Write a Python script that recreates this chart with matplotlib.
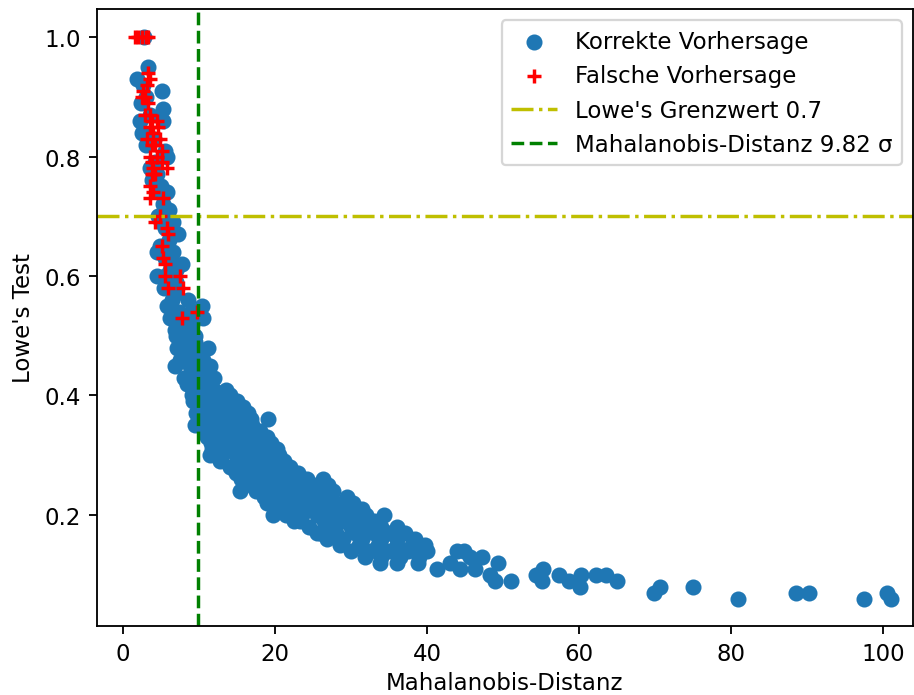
import matplotlib
matplotlib.use("Agg")
import matplotlib.pyplot as plt

# Korrekte Vorhersagen (Mahalanobis-Distanz, Lowe's Test)
korrekt_x = [2.7,
    3.3, 1.8, 2.6, 5.1, 3.0, 2.4, 5.3, 3.5, 2.2, 5.3, 2.5, 4.0, 3.0, 5.5, 5.8, 4.2, 3.5, 4.5, 3.8,
    5.0, 4.9, 5.8, 5.3, 4.6, 5.0, 5.5, 7.2, 6.0, 4.8, 4.5, 6.5, 5.5, 7.8, 6.2, 4.5, 5.5, 7.0, 5.4,
    6.8, 6.4, 8.5, 5.8, 10.4, 7.3, 9.0, 6.2, 10.5, 7.5, 6.8, 8.8, 9.5, 7.0,
    6.0, 6.5, 6.5, 7.0, 6.0, 8.0, 9.0, 8.0, 9.5, 10.0, 9.0, 10.5, 12.0,
    7.1, 8.5, 11.2, 9.8, 7.5, 10.5, 6.8, 8.8, 11.4, 9.5, 8.0, 10.5, 12.0, 8.4, 9.7, 11.5, 13.5,
    9.0, 10.5, 12.5, 14.0, 9.2, 11.0, 13.0, 15.0, 10.0, 12.0, 14.2, 15.8,
    9.6, 11.5, 13.3, 15.2, 16.5, 10.5, 12.5, 14.5, 16.8, 19.1,
    9.5, 11.2, 13.2, 15.5, 17.0, 10.8, 12.8, 14.8, 16.2, 18.0,
    11.0, 13.5, 15.5, 17.5, 19.0,
    11.5, 12.8, 14.5, 16.5, 18.5, 19.5,
    11.7, 13.8, 15.5, 17.2, 20.2,
    11.4, 13.0, 14.8, 16.8, 18.5, 20.5,
    12.7, 15.8, 17.5, 19.5, 21.2,
    14.0, 16.2, 18.2, 20.0, 21.9,
    14.8, 17.0, 19.0, 21.0, 23.0,
    15.5, 17.8, 20.0, 22.0, 24.2, 26.3,
    16.0, 18.5, 21.0, 23.0, 25.0, 27.0,
    15.4, 17.5, 19.5, 22.0, 24.0, 26.0, 27.6,
    18.5, 20.5, 23.0, 25.0, 27.0, 29.4,
    19.0, 21.5, 23.8, 26.0, 28.0, 30.2,
    20.5, 22.5, 24.5, 27.0, 29.0, 31.4,
    19.7, 21.5, 23.5, 25.5, 28.0, 30.0, 32.0, 34.4,
    22.5, 23.3, 26.5, 29.0, 31.0, 33.0,
    24.5, 27.5, 30.0, 32.0, 34.0, 36.0,
    25.5, 28.0, 30.5, 33.0, 35.0, 37.1, 25.9,
    26.8, 29.0, 31.5, 34.0, 36.0, 38.4,
    28.5, 31.0, 33.5, 36.0, 38.0, 39.7,
    30.0, 32.5, 35.0, 37.5, 40.0, 43.9, 44.9,
    31.8, 34.0, 36.5, 39.0, 45.6, 47.2,
    33.8, 36.0, 38.8, 43.0, 49.3,
    41.3, 44.3, 46.3, 55.2,
    48.3, 54.4, 57.4, 60.3, 62.3, 63.6,
    48.9, 51.1, 55.1, 58.7, 65.0,
    60.1, 70.7, 75.0,
    69.9, 88.5, 90.3, 100.5,
    80.9, 97.5, 101.0]
korrekt_y = [1.00,
    0.95, 0.93, 0.92, 0.91, 0.90, 0.89, 0.88, 0.87, 0.86, 0.86, 0.84, 0.83, 0.82, 0.81, 0.80, 0.79, 0.78, 0.77, 0.76,
    0.75, 0.74, 0.74, 0.72, 0.70, 0.69, 0.68, 0.67, 0.66, 0.65, 0.64, 0.64, 0.63, 0.62, 0.61, 0.60, 0.60, 0.59, 0.58,
    0.57, 0.56, 0.56, 0.55, 0.55, 0.54, 0.54, 0.53, 0.53, 0.52, 0.51, 0.51, 0.50, 0.50,
    0.71, 0.69, 0.62, 0.61, 0.58, 0.53, 0.52, 0.50, 0.49, 0.45, 0.47, 0.41, 0.41,
    0.48, 0.48, 0.48, 0.47, 0.46, 0.46, 0.45, 0.45, 0.45, 0.44, 0.43, 0.43, 0.43, 0.42, 0.42, 0.41, 0.41,
    0.40, 0.40, 0.40, 0.40, 0.39, 0.39, 0.39, 0.39, 0.38, 0.38, 0.38, 0.38,
    0.37, 0.37, 0.37, 0.37, 0.37, 0.36, 0.36, 0.36, 0.36, 0.36,
    0.35, 0.35, 0.35, 0.35, 0.35, 0.34, 0.34, 0.34, 0.34, 0.34,
    0.33, 0.33, 0.33, 0.33, 0.33,
    0.32, 0.32, 0.32, 0.32, 0.32, 0.32,
    0.31, 0.31, 0.31, 0.31, 0.31,
    0.30, 0.30, 0.30, 0.30, 0.30, 0.30,
    0.29, 0.29, 0.29, 0.29, 0.29,
    0.28, 0.28, 0.28, 0.28, 0.28,
    0.27, 0.27, 0.27, 0.27, 0.27,
    0.26, 0.26, 0.26, 0.26, 0.26, 0.26,
    0.25, 0.25, 0.25, 0.25, 0.25, 0.25,
    0.24, 0.24, 0.24, 0.24, 0.24, 0.24, 0.24,
    0.23, 0.23, 0.23, 0.23, 0.23, 0.23,
    0.22, 0.22, 0.22, 0.22, 0.22, 0.22,
    0.21, 0.21, 0.21, 0.21, 0.21, 0.21,
    0.20, 0.20, 0.20, 0.20, 0.20, 0.20, 0.20, 0.20,
    0.19, 0.19, 0.19, 0.19, 0.19, 0.19,
    0.18, 0.18, 0.18, 0.18, 0.18, 0.18,
    0.17, 0.17, 0.17, 0.17, 0.17, 0.17, 0.17,
    0.16, 0.16, 0.16, 0.16, 0.16, 0.16,
    0.15, 0.15, 0.15, 0.15, 0.15, 0.15,
    0.14, 0.14, 0.14, 0.14, 0.14, 0.14, 0.14,
    0.13, 0.13, 0.13, 0.13, 0.13, 0.13,
    0.12, 0.12, 0.12, 0.12, 0.12,
    0.11, 0.11, 0.11, 0.11,
    0.10, 0.10, 0.10, 0.10, 0.10, 0.10,
    0.09, 0.09, 0.09, 0.09, 0.09,
    0.08, 0.08, 0.08,
    0.07, 0.07, 0.07, 0.07,
    0.06, 0.06, 0.06]

# Falsche Vorhersagen
falsch_x = [1.5, 2.0, 2.5, 3.0, 3.3,
    3.3, 3.5, 3.2, 2.6, 2.5, 2.9, 3.3, 2.9, 3.5, 3.8, 4.5, 3.5, 4.6, 3.9, 3.2, 4.9, 3.8, 4.2,
    5.1, 3.5, 4.5, 5.1, 3.8, 3.9, 5.8, 3.8, 4.2, 3.9, 3.5, 3.9, 3.5, 5.3,
    4.9, 4.2, 5.8, 5.9, 5.1, 5.3, 5.5, 5.5, 7.5, 5.9, 7.9, 7.8, 9.7]
falsch_y = [1.00, 1.00, 1.00, 1.00, 1.00,
    0.94, 0.93, 0.92, 0.91, 0.90, 0.90, 0.89, 0.87, 0.87, 0.86, 0.86, 0.85, 0.85, 0.84, 0.83, 0.83, 0.82, 0.82,
    0.81, 0.80, 0.80, 0.79, 0.79, 0.78, 0.78, 0.77, 0.77, 0.77, 0.75, 0.74, 0.73, 0.73,
    0.70, 0.69, 0.68, 0.67, 0.65, 0.63, 0.62, 0.60, 0.60, 0.58, 0.58, 0.53, 0.54]

lowe_grenze = 0.7
mahal_grenze = 9.82

dpi = 165
fig = plt.figure(figsize=(914/dpi, 696/dpi), dpi=dpi)
ax = fig.add_axes([97/914, 1 - 627/696, 816/914, 617/696])

ax.scatter(korrekt_x, korrekt_y, label='Korrekte Vorhersage')
ax.scatter(falsch_x, falsch_y, c='r', marker='+', label='Falsche Vorhersage')
ax.axhline(lowe_grenze, color='y', linestyle='-.', label="Lowe's Grenzwert 0.7")
ax.axvline(mahal_grenze, color='g', linestyle='--', label='Mahalanobis-Distanz 9.82 σ')

ax.set_xlim(-3.44, 103.96)
ax.set_ylim(0.0142, 1.0469)
ax.set_xlabel('Mahalanobis-Distanz', labelpad=2.5)
ax.set_ylabel("Lowe's Test")
ax.legend(loc='upper right')

plt.savefig("out.png", dpi=dpi)
